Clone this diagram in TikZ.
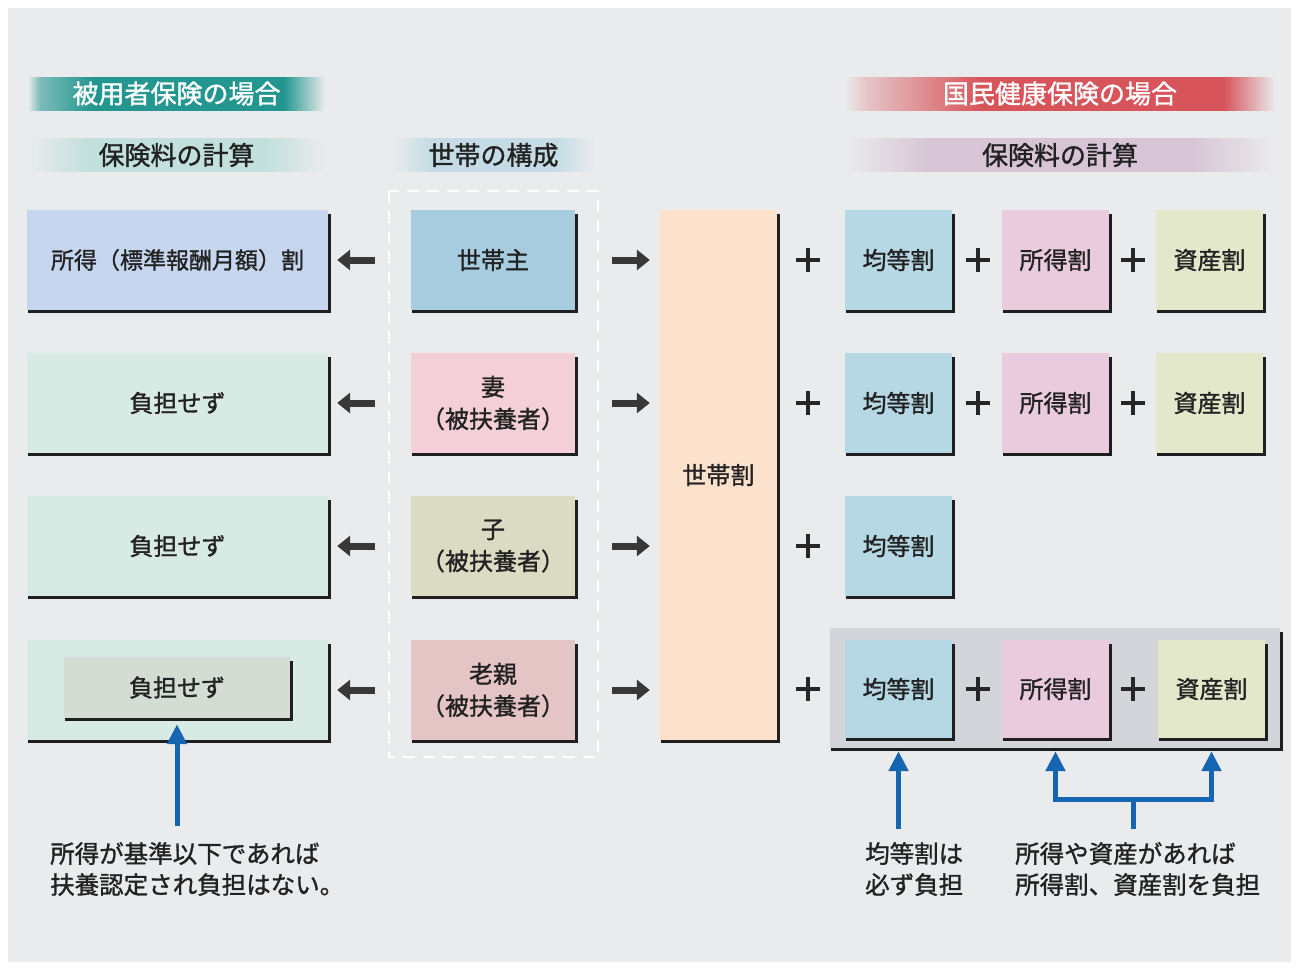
\documentclass[tikz,border=0pt]{standalone}
\usepackage{fontspec}
\setmainfont{Noto Sans CJK JP}[FakeBold=1.2]
\usetikzlibrary{arrows.meta,calc}
\definecolor{bgc}{HTML}{EAEBEC}
\definecolor{tealc}{HTML}{22968F}
\definecolor{redc}{HTML}{D6545A}
\definecolor{subl}{HTML}{C2E0DD}
\definecolor{subc}{HTML}{C5DCE6}
\definecolor{subr}{HTML}{D7C4D5}
\definecolor{lblue}{HTML}{C5D6EE}
\definecolor{lmint}{HTML}{D7EAE3}
\definecolor{lgreen}{HTML}{D3DDD3}
\definecolor{cblue}{HTML}{A8CCDF}
\definecolor{cpink}{HTML}{F4CFD8}
\definecolor{cbeige}{HTML}{DBDAC3}
\definecolor{crose}{HTML}{E5C4C5}
\definecolor{peach}{HTML}{FCE1CD}
\definecolor{rblue}{HTML}{B6D7E4}
\definecolor{rpink}{HTML}{EACBDD}
\definecolor{rolive}{HTML}{E3E8CB}
\definecolor{grpc}{HTML}{D4D5DA}
\definecolor{bluearr}{HTML}{1565B0}
\definecolor{txtc}{HTML}{222222}
\pgfdeclarehorizontalshading{tealband}{100bp}{color(0bp)=(bgc); color(25bp)=(bgc); color(27bp)=(tealc!55!bgc); color(36bp)=(tealc); color(68bp)=(tealc); color(75bp)=(bgc); color(100bp)=(bgc)}
\pgfdeclarehorizontalshading{redband}{100bp}{color(0bp)=(bgc); color(25bp)=(bgc); color(27.5bp)=(redc!25!bgc); color(41bp)=(redc); color(69bp)=(redc); color(75bp)=(bgc); color(100bp)=(bgc)}
\pgfdeclarehorizontalshading{sublband}{100bp}{color(0bp)=(bgc); color(25bp)=(bgc); color(35bp)=(subl); color(65bp)=(subl); color(75bp)=(bgc); color(100bp)=(bgc)}
\pgfdeclarehorizontalshading{subcband}{100bp}{color(0bp)=(bgc); color(25bp)=(bgc); color(35bp)=(subc); color(65bp)=(subc); color(75bp)=(bgc); color(100bp)=(bgc)}
\pgfdeclarehorizontalshading{subrband}{100bp}{color(0bp)=(bgc); color(25bp)=(bgc); color(35bp)=(subr); color(65bp)=(subr); color(75bp)=(bgc); color(100bp)=(bgc)}
\newcommand\shd[1]{\draw[shline] ([xshift=1.5pt,yshift=-4pt]#1.north east) -- ([xshift=1.5pt,yshift=-1.5pt]#1.south east) -- ([xshift=1pt,yshift=-1.5pt]#1.south west);}
\newcommand\plussign[2]{\draw[plusline] (#1-12,#2) -- (#1+12,#2) (#1,#2-12) -- (#1,#2+12);}
\begin{document}
\begin{tikzpicture}[x=1pt,y=-1pt,
  bx/.style={fill=#1, inner sep=0pt, text=txtc, align=center, font=\fontsize{24}{32}\selectfont},
  band/.style={shade, shading=#1, inner sep=0pt, minimum height=33pt, font=\fontsize{26}{30}\selectfont},
  shline/.style={line width=3pt, draw=black!88, line join=miter},
  plusline/.style={line width=4pt, draw=black!85},
  garr/.style={line width=7pt, draw=black!78, -{Triangle[length=13pt,width=20pt]}},
  barr/.style={line width=5pt, draw=bluearr, line join=miter, -{Triangle[length=20pt,width=19pt]}},
  bline/.style={line width=5pt, draw=bluearr},
  note/.style={inner sep=0pt, align=left, text=txtc, font=\fontsize{24.5}{31}\selectfont}]
\useasboundingbox (0,0) rectangle (1298,967);
\fill[white] (0,0) rectangle (1298,967);
\fill[bgc] (8,8) rectangle (1291,962);

% headers
\node[band=tealband, minimum width=297pt, text=white] (h1) at (176.5,93.5) {被用者保険の場合};
\node[band=redband, minimum width=430pt, text=white] (h2) at (1060,93.5) {国民健康保険の場合};
\node[band=sublband, minimum width=297pt, text=txtc] (s1) at (176.5,155) {保険料の計算};
\node[band=subcband, minimum width=205pt, text=txtc] (s2) at (493.5,155) {世帯の構成};
\node[band=subrband, minimum width=430pt, text=txtc] (s3) at (1060,155) {保険料の計算};

% dashed region
\draw[white, line width=2.5pt, dash pattern=on 12pt off 8pt] (389,191) rectangle (598,757);

% left column
\node[bx=lblue, minimum width=301pt, minimum height=100pt, font=\fontsize{23}{31}\selectfont] (L1) at (177.5,260) {所得（標準報酬月額）割};
\node[bx=lmint, minimum width=301pt, minimum height=100pt] (L2) at (177.5,403) {負担せず};
\node[bx=lmint, minimum width=301pt, minimum height=100pt] (L3) at (177.5,546) {負担せず};
\node[bx=lmint, minimum width=301pt, minimum height=100pt] (L4) at (177.5,690) {};
\shd{L1}\shd{L2}\shd{L3}\shd{L4}
\node[bx=lgreen, minimum width=226pt, minimum height=61pt] (I4) at (177,687.5) {負担せず};
\shd{I4}

% center column
\node[bx=cblue, minimum width=164pt, minimum height=100pt] (C1) at (493,260) {世帯主};
\node[bx=cpink, minimum width=164pt, minimum height=100pt] (C2) at (493,403) {妻\\（被扶養者）};
\node[bx=cbeige, minimum width=164pt, minimum height=100pt] (C3) at (493,546) {子\\（被扶養者）};
\node[bx=crose, minimum width=164pt, minimum height=100pt] (C4) at (493,690) {老親\\（被扶養者）};
\shd{C1}\shd{C2}\shd{C3}\shd{C4}

% household levy
\node[bx=peach, minimum width=117pt, minimum height=530pt] (S) at (718.5,475) {世帯割};
\shd{S}

% right group background (row 4)
\node[fill=grpc, inner sep=0pt, minimum width=450pt, minimum height=120pt] (G) at (1055,688) {};
\shd{G}

% right boxes
\node[bx=rblue, minimum width=107pt, minimum height=100pt] (K1) at (898.5,260) {均等割};
\node[bx=rpink, minimum width=107pt, minimum height=100pt] (T1) at (1055.5,260) {所得割};
\node[bx=rolive, minimum width=107pt, minimum height=100pt] (A1) at (1209.5,260) {資産割};
\node[bx=rblue, minimum width=107pt, minimum height=100pt] (K2) at (898.5,403) {均等割};
\node[bx=rpink, minimum width=107pt, minimum height=100pt] (T2) at (1055.5,403) {所得割};
\node[bx=rolive, minimum width=107pt, minimum height=100pt] (A2) at (1209.5,403) {資産割};
\node[bx=rblue, minimum width=107pt, minimum height=100pt] (K3) at (898.5,546) {均等割};
\node[bx=rblue, minimum width=107pt, minimum height=98pt] (K4) at (898.5,689) {均等割};
\node[bx=rpink, minimum width=107pt, minimum height=98pt] (T4) at (1055.5,689) {所得割};
\node[bx=rolive, minimum width=107pt, minimum height=98pt] (A4) at (1211.5,689) {資産割};
\shd{K1}\shd{T1}\shd{A1}\shd{K2}\shd{T2}\shd{A2}\shd{K3}\shd{K4}\shd{T4}\shd{A4}

% plus signs
\plussign{808}{260}\plussign{978}{260}\plussign{1133}{260}
\plussign{808}{403}\plussign{978}{403}\plussign{1133}{403}
\plussign{808}{546}
\plussign{808}{689}\plussign{978}{689}\plussign{1133}{689}

% gray arrows
\foreach \i in {1,2,3,4}{
  \draw[garr, shorten <=36pt, shorten >=9pt] (C\i.west) -- (L\i.east |- C\i.west);
  \draw[garr, shorten <=37pt, shorten >=10pt] (C\i.east) -- (S.west |- C\i.east);
}

% notes and blue arrows
\node[note, anchor=west] (n1) at (50,869) {所得が基準以下であれば\\扶養認定され負担はない。};
\node[note, anchor=west] (n2) at (865,869) {均等割は\\必ず負担};
\node[note, anchor=west] (n3) at (1015,869) {所得や資産があれば\\所得割、資産割を負担};
\coordinate (a1) at (177,826);
\draw[barr, shorten >=6pt] (a1) -- (I4.south);
\coordinate (a2) at (898.5,829);
\draw[barr, shorten >=3pt] (a2) -- (K4.south |- G.south);
\coordinate (a3) at (1133,829);
\coordinate (br) at (1133,799);
\draw[bline] (a3) -- ([yshift=-2.5pt]br);
\draw[barr, shorten >=3pt] (br) -| (T4.south |- G.south);
\draw[barr, shorten >=3pt] (br) -| (A4.south |- G.south);
\end{tikzpicture}
\end{document}
